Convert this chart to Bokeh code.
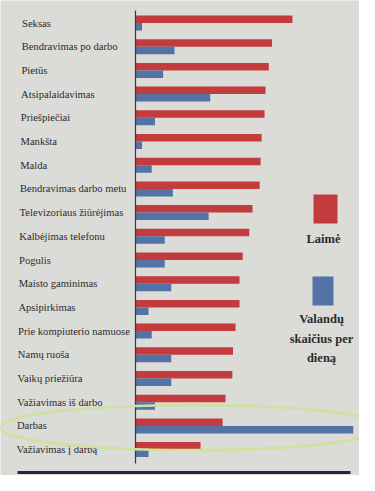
from bokeh.plotting import figure
from bokeh.models import Range1d
from bokeh.core.properties import value
from bokeh.embed import file_html
from bokeh.resources import INLINE

categories = ["Seksas", "Bendravimas po darbo", "Pietūs", "Atsipalaidavimas",
              "Priešpiečiai", "Mankšta", "Malda", "Bendravimas darbo metu",
              "Televizoriaus žiūrėjimas", "Kalbėjimas telefonu", "Pogulis",
              "Maisto gaminimas", "Apsipirkimas", "Prie kompiuterio namuose",
              "Namų ruoša", "Vaikų priežiūra", "Važiavimas iš darbo", "Darbas",
              "Važiavimas į darbą"]
laime = [4.83, 4.2, 4.1, 4.0, 3.97, 3.88, 3.85, 3.82, 3.6, 3.5, 3.3, 3.2,
         3.2, 3.08, 3.0, 2.98, 2.77, 2.68, 2.0]
valandos = [0.2, 1.2, 0.85, 2.3, 0.6, 0.2, 0.5, 1.15, 2.25, 0.9, 0.9, 1.1,
            0.4, 0.5, 1.1, 1.1, 0.6, 6.7, 0.4]
legend_laime = "Laimė"
legend_val = ["Valandų", "skaičius per", "dieną"]

W, H = 359, 475
SX = 32.5          # px per unit
X0 = 135           # px of zero
PITCH = 23.7       # px per row
Y0 = 22.5          # px of first row

def fx(px):
    return (px - X0) / SX

def fy(px):
    return (px - Y0) / PITCH

RED = "#c33b3d"
BLUE = "#5372a6"
BG = "#dbdbd8"
TXT = "#2b2b2b"
SERIF = value("Liberation Serif")

p = figure(width=W, height=H, output_backend="svg", toolbar_location=None,
           x_range=Range1d(fx(0), fx(W)), y_range=Range1d(fy(H), fy(0)),
           min_border=0)
p.background_fill_color = BG
p.border_fill_color = BG
p.outline_line_color = None
p.xaxis.visible = False
p.yaxis.visible = False
p.grid.visible = False

n = len(categories)
rows = list(range(n))
bh = 7.5 / PITCH

p.hbar(y=[r - bh / 2 for r in rows], left=0, right=laime, height=bh,
       fill_color=RED, line_color=None)
p.hbar(y=[r + bh / 2 for r in rows], left=0, right=valandos, height=bh,
       fill_color=BLUE, line_color=None)

# vertical axis line
p.segment(x0=[0], y0=[fy(10)], x1=[0], y1=[fy(463)], line_color="#3a3a3a",
          line_width=1.2)

# category labels (slight drift as in the photographed page)
p.text(x=[fx(21.5 - 0.3 * r) for r in rows], y=rows, text=categories,
       text_font=SERIF, text_font_size="10.6px", text_color=TXT,
       text_baseline="middle", text_align="left")

# legend
p.quad(left=[fx(313)], right=[fx(337)], top=[fy(194)], bottom=[fy(223)],
       fill_color=RED, line_color=None)
p.quad(left=[fx(312)], right=[fx(333)], top=[fy(276)], bottom=[fy(305)],
       fill_color=BLUE, line_color=None)
p.text(x=[fx(323)], y=[fy(238)], text=[legend_laime], text_font=SERIF,
       text_font_size="12.5px", text_font_style="bold", text_color=TXT,
       text_align="center", text_baseline="middle")
p.text(x=[fx(321)] * 3, y=[fy(318), fy(338), fy(357)], text=legend_val,
       text_font=SERIF, text_font_size="12.5px", text_font_style="bold",
       text_color=TXT, text_align="center", text_baseline="middle")

# bottom rule
p.segment(x0=[fx(17)], y0=[fy(472)], x1=[fx(350)], y1=[fy(472)],
          line_color="#1d2748", line_width=3)

# highlight ellipse around "Darbas"
p.ellipse(x=[fx(192)], y=[fy(427)], width=[385 / SX], height=[45 / PITCH],
          fill_alpha=0, line_color="#cde29a", line_width=2.5)

open("out.html", "w").write(file_html(p, INLINE))
